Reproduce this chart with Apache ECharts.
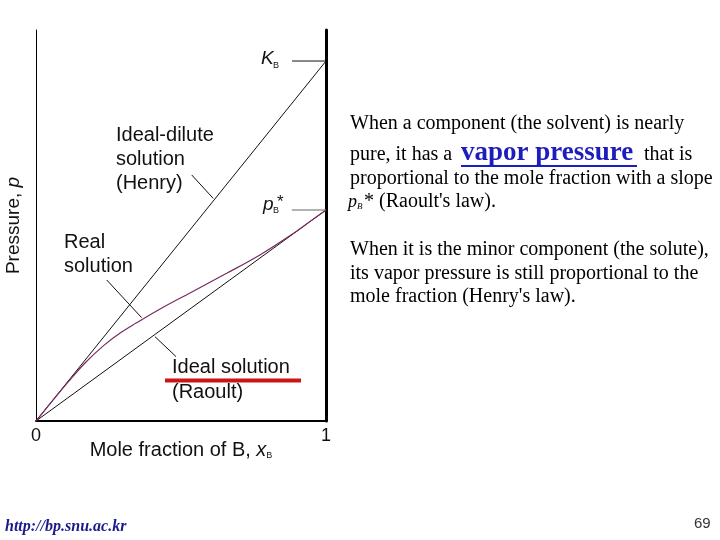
<!DOCTYPE html>
<html>
<head>
<meta charset="utf-8">
<script src="https://cdn.jsdelivr.net/npm/echarts@6/dist/echarts.min.js"></script>
<style>
html,body{margin:0;padding:0;background:#fff;}
#chart{width:720px;height:540px;}
</style>
</head>
<body>
<div id="chart"></div>
<script>
// ---- data ----
const xTicks = [0, 1];
const henryX = [0, 1];
const henryP = [0, 1.706];          // K_B relative to p_B*
const raoultX = [0, 1];
const raoultP = [0, 1];             // p_B*
const realX = [0, 0.048, 0.114, 0.169, 0.231, 0.290, 0.345, 0.428, 0.531, 0.659, 0.772, 0.886, 0.945, 1.0];
const realP = [0, 0.081, 0.190, 0.275, 0.355, 0.417, 0.464, 0.531, 0.607, 0.701, 0.787, 0.888, 0.946, 1.0];
const kbTickX = [0.883, 1];
const kbTickP = [1.706, 1.706];
const pbTickX = [0.882, 1];
const pbTickP = [1, 1];
const leaderHenryX = [0.537, 0.611];
const leaderHenryP = [1.166, 1.055];
const leaderRealX = [0.244, 0.364];
const leaderRealP = [0.668, 0.490];
const leaderRaoultX = [0.410, 0.483];
const leaderRaoultP = [0.400, 0.305];
const yMax = 1.853;

const zip = (a, b) => a.map((v, i) => [v, b[i]]);

const chart = echarts.init(document.getElementById('chart'), null, {renderer: 'canvas'});

const SANS = 'Liberation Sans, Arial, sans-serif';
const SERIF = 'Liberation Serif, Times New Roman, serif';

function lineSeries(data, color, width, smooth) {
  return {
    type: 'line', data: data, showSymbol: false, symbol: 'none',
    smooth: smooth || false, silent: true,
    lineStyle: {color: color, width: width},
    xAxisIndex: 0, yAxisIndex: 0, animation: false
  };
}

function txt(x, y, text, opt) {
  return {
    type: 'text', x: x, y: y, silent: true,
    style: Object.assign({text: text, font: '20px ' + SANS, fill: '#111', verticalAlign: 'middle', align: 'left'}, opt || {})
  };
}

const SER = '20px ' + SERIF;

const option = {
  animation: false,
  backgroundColor: '#fff',
  grid: {left: 36, right: 394, top: 30, bottom: 119},
  xAxis: {
    type: 'value', min: 0, max: 1, interval: 1,
    axisLine: {show: true, onZero: false, lineStyle: {color: '#000', width: 2}},
    axisTick: {show: false},
    splitLine: {show: false},
    axisLabel: {show: true, fontSize: 18, fontFamily: SANS, color: '#111', margin: 6,
      formatter: v => xTicks.includes(v) ? String(v) : ''},
    name: '{a|Mole fraction of B, }{i|x}{s|B}',
    nameLocation: 'middle', nameGap: 19, nameMoveOverlap: false,
    nameTextStyle: {
      rich: {
        a: {fontSize: 20, fontFamily: SANS, color: '#111', verticalAlign: 'bottom'},
        i: {fontSize: 20, fontFamily: SANS, fontStyle: 'italic', color: '#111', verticalAlign: 'bottom'},
        s: {fontSize: 9, fontFamily: SANS, color: '#111', verticalAlign: 'bottom'}
      }
    }
  },
  yAxis: [{
    type: 'value', min: 0, max: yMax,
    axisLine: {show: true, onZero: false, lineStyle: {color: '#000', width: 1}},
    axisTick: {show: false}, axisLabel: {show: false}, splitLine: {show: false},
    name: '{a|Pressure, }{i|p}',
    nameLocation: 'middle', nameGap: 13, nameRotate: 90, nameMoveOverlap: false,
    nameTextStyle: {
      rich: {
        a: {fontSize: 19, fontFamily: SANS, color: '#111'},
        i: {fontSize: 19, fontFamily: SANS, fontStyle: 'italic', color: '#111'}
      }
    }
  }, {
    type: 'value', min: 0, max: yMax, position: 'right',
    axisLine: {show: true, onZero: false, lineStyle: {color: '#000', width: 3}},
    axisTick: {show: false}, axisLabel: {show: false}, splitLine: {show: false}
  }],
  series: [
    lineSeries(zip(henryX, henryP), '#111', 1),
    lineSeries(zip(raoultX, raoultP), '#111', 1),
    lineSeries(zip(realX, realP), '#7a2a62', 1.2, 0.35),
    lineSeries(zip(kbTickX, kbTickP), '#111', 1),
    lineSeries(zip(pbTickX, pbTickP), '#666', 1.2),
    lineSeries(zip(leaderHenryX, leaderHenryP), '#111', 1),
    lineSeries(zip(leaderRealX, leaderRealP), '#111', 1),
    lineSeries(zip(leaderRaoultX, leaderRaoultP), '#111', 1)
  ],
  graphic: [
    // chart annotations
    txt(261, 59, 'K', {font: 'italic 19px ' + SANS}),
    txt(273, 66, 'B', {font: '9px ' + SANS}),
    txt(263, 205, 'p', {font: 'italic 19px ' + SANS}),
    txt(273, 211, 'B', {font: '9px ' + SANS}),
    txt(277, 202, '*', {font: '17px ' + SANS}),
    txt(116, 135, 'Ideal-dilute'),
    txt(116, 159, 'solution'),
    txt(116, 183, '(Henry)'),
    txt(64, 242, 'Real'),
    txt(64, 266, 'solution'),
    txt(172, 367, 'Ideal solution'),
    txt(172, 392, '(Raoult)'),
    {type: 'rect', silent: true, shape: {x: 165, y: 378.5, width: 136, height: 4},
     style: {fill: '#cc1515'}},
    // right text block
    txt(350, 124, 'When a component (the solvent) is nearly', {font: SER, fill: '#000'}),
    txt(350, 155, 'pure, it has a', {font: SER, fill: '#000'}),
    txt(461, 153, 'vapor pressure', {font: 'bold 27px ' + SERIF, fill: '#1d1dbd'}),
    {type: 'rect', silent: true, shape: {x: 461, y: 165, width: 176, height: 2}, style: {fill: '#1d1dbd'}},
    txt(644, 155, 'that is', {font: SER, fill: '#000'}),
    txt(350, 179, 'proportional to the mole fraction with a slope', {font: SER, fill: '#000'}),
    txt(348, 202, 'p', {font: 'italic 18px ' + SERIF, fill: '#000'}),
    txt(357, 207, 'B', {font: 'italic 9px ' + SERIF, fill: '#000'}),
    txt(364, 202, '* (Raoult\'s law).', {font: SER, fill: '#000'}),
    txt(350, 250, 'When it is the minor component (the solute),', {font: SER, fill: '#000'}),
    txt(350, 274, 'its vapor pressure is still proportional to the', {font: SER, fill: '#000'}),
    txt(350, 297, 'mole fraction (Henry\'s law).', {font: SER, fill: '#000'}),
    // footer
    txt(5, 527, 'http://bp.snu.ac.kr', {font: 'bold italic 16px ' + SERIF, fill: '#1a1a8c'}),
    txt(694, 524, '69', {font: '15px ' + SANS, fill: '#333'})
  ]
};

chart.setOption(option);
</script>
</body>
</html>
